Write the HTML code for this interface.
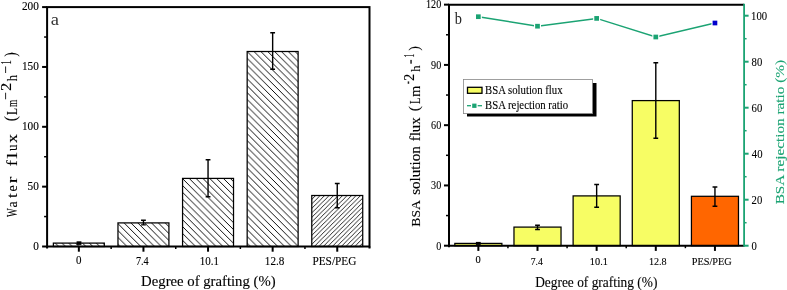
<!DOCTYPE html><html><head><meta charset="utf-8"><style>html,body{margin:0;padding:0;background:#fff;overflow:hidden}svg{display:block;will-change:transform}text{fill:#000;white-space:pre;stroke:#000;stroke-width:0.12px;paint-order:stroke}</style></head><body>
<svg width="787" height="290" viewBox="0 0 787 290">
<defs>
<pattern id="hb" patternUnits="userSpaceOnUse" width="6.85" height="6.85" patternTransform="translate(3.9,0)"><path d="M-1,-1 L7.85,7.85 M-1,5.85 L1,7.85 M5.85,-1 L7.85,1" stroke="#000" stroke-width="0.95"/></pattern>
<pattern id="hf" patternUnits="userSpaceOnUse" width="4.5" height="4.5" patternTransform="translate(2.7,0)"><path d="M-1,5.5 L5.5,-1 M-1,1 L1,-1 M3.5,5.5 L5.5,3.5" stroke="#000" stroke-width="0.85"/></pattern>
</defs>
<rect x="53.37" y="243.1" width="50.95" height="3.4" fill="url(#hb)" stroke="#000" stroke-width="1.25"/>
<rect x="117.97" y="222.9" width="50.95" height="23.6" fill="url(#hb)" stroke="#000" stroke-width="1.25"/>
<rect x="182.57" y="178.4" width="50.95" height="68.1" fill="url(#hb)" stroke="#000" stroke-width="1.25"/>
<rect x="247.17" y="51.5" width="50.95" height="195" fill="url(#hb)" stroke="#000" stroke-width="1.25"/>
<rect x="311.77" y="195.5" width="50.95" height="51" fill="url(#hf)" stroke="#000" stroke-width="1.25"/>
<rect x="76.6" y="241.3" width="4.8" height="3.6" fill="#000"/>
<path d="M143.45,220.2V224.9M141.05,220.2H145.85M141.05,224.9H145.85" stroke="#000" stroke-width="1.4" fill="none"/>
<path d="M208.05,159.8V196.8M205.65,159.8H210.45M205.65,196.8H210.45" stroke="#000" stroke-width="1.4" fill="none"/>
<path d="M272.65,32.8V69.3M270.25,32.8H275.05M270.25,69.3H275.05" stroke="#000" stroke-width="1.4" fill="none"/>
<path d="M337.25,183.5V207.7M334.85,183.5H339.65M334.85,207.7H339.65" stroke="#000" stroke-width="1.4" fill="none"/>
<rect x="47.1" y="7.1" width="322.4" height="239.4" fill="none" stroke="#000" stroke-width="2"/>
<path d="M47.1,246.5V248.5M369.5,246.5V248.5" stroke="#000" stroke-width="2"/>
<path d="M42.1,246.5H47.1" stroke="#000" stroke-width="2"/>
<text x="33.17" y="249.7" font-size="11.8" font-family="Liberation Serif" textLength="5.63" lengthAdjust="spacingAndGlyphs">0</text>
<path d="M42.1,186.65H47.1" stroke="#000" stroke-width="2"/>
<text x="27.53" y="189.85" font-size="11.8" font-family="Liberation Serif" textLength="11.27" lengthAdjust="spacingAndGlyphs">50</text>
<path d="M42.1,126.8H47.1" stroke="#000" stroke-width="2"/>
<text x="21.9" y="130" font-size="11.8" font-family="Liberation Serif" textLength="16.9" lengthAdjust="spacingAndGlyphs">100</text>
<path d="M42.1,66.95H47.1" stroke="#000" stroke-width="2"/>
<text x="21.9" y="70.15" font-size="11.8" font-family="Liberation Serif" textLength="16.9" lengthAdjust="spacingAndGlyphs">150</text>
<path d="M42.1,7.1H47.1" stroke="#000" stroke-width="2"/>
<text x="21.9" y="10.3" font-size="11.8" font-family="Liberation Serif" textLength="16.9" lengthAdjust="spacingAndGlyphs">200</text>
<path d="M44.1,216.57H47.1" stroke="#000" stroke-width="1.5"/>
<path d="M44.1,156.72H47.1" stroke="#000" stroke-width="1.5"/>
<path d="M44.1,96.88H47.1" stroke="#000" stroke-width="1.5"/>
<path d="M44.1,37.03H47.1" stroke="#000" stroke-width="1.5"/>
<path d="M78.85,246.5V251.7" stroke="#000" stroke-width="2"/>
<path d="M143.45,246.5V251.7" stroke="#000" stroke-width="2"/>
<path d="M208.05,246.5V251.7" stroke="#000" stroke-width="2"/>
<path d="M272.65,246.5V251.7" stroke="#000" stroke-width="2"/>
<path d="M337.25,246.5V251.7" stroke="#000" stroke-width="2"/>
<path d="M111.15,246.5V249" stroke="#000" stroke-width="1.5"/>
<path d="M175.75,246.5V249" stroke="#000" stroke-width="1.5"/>
<path d="M240.35,246.5V249" stroke="#000" stroke-width="1.5"/>
<path d="M304.95,246.5V249" stroke="#000" stroke-width="1.5"/>
<text x="75.91" y="263.6" font-size="11.6" font-family="Liberation Serif" textLength="5.48" lengthAdjust="spacingAndGlyphs">0</text>
<text x="135.88" y="264.7" font-size="11.8" font-family="Liberation Serif" textLength="12.82" lengthAdjust="spacingAndGlyphs">7.4</text>
<text x="199.66" y="265.2" font-size="11.8" font-family="Liberation Serif" textLength="19.25" lengthAdjust="spacingAndGlyphs">10.1</text>
<text x="264.84" y="265.2" font-size="11.8" font-family="Liberation Serif" textLength="19.55" lengthAdjust="spacingAndGlyphs">12.8</text>
<text x="312.41" y="265.2" font-size="11.8" font-family="Liberation Serif" textLength="43.98" lengthAdjust="spacingAndGlyphs">PES/PEG</text>
<text x="141.11" y="285.8" font-size="14.3" font-family="Liberation Serif" textLength="134.49" lengthAdjust="spacingAndGlyphs">Degree of grafting (%)</text>
<text x="50.7" y="25" font-size="17" font-family="Liberation Serif" textLength="8.2" lengthAdjust="spacingAndGlyphs" style="fill:#333;stroke:none">a</text>
<text transform="translate(17.3,217.05) rotate(-90)" font-size="15.2" font-family="Liberation Serif" textLength="8.74" lengthAdjust="spacingAndGlyphs">W</text>
<text transform="translate(17.3,207.53) rotate(-90)" font-size="15.2" font-family="Liberation Serif" textLength="6.07" lengthAdjust="spacingAndGlyphs">a</text>
<text transform="translate(17.3,197.91) rotate(-90)" font-size="15.2" font-family="Liberation Serif" textLength="4.49" lengthAdjust="spacingAndGlyphs">t</text>
<text transform="translate(17.3,191.5) rotate(-90)" font-size="15.2" font-family="Liberation Serif" textLength="6.12" lengthAdjust="spacingAndGlyphs">e</text>
<text transform="translate(17.3,183.15) rotate(-90)" font-size="15.2" font-family="Liberation Serif" textLength="6.66" lengthAdjust="spacingAndGlyphs">r</text>
<text transform="translate(17.3,166.29) rotate(-90)" font-size="15.2" font-family="Liberation Serif" textLength="6.01" lengthAdjust="spacingAndGlyphs">f</text>
<text transform="translate(17.3,158.81) rotate(-90)" font-size="15.2" font-family="Liberation Serif" textLength="6.37" lengthAdjust="spacingAndGlyphs">l</text>
<text transform="translate(17.3,151.04) rotate(-90)" font-size="15.2" font-family="Liberation Serif" textLength="6.49" lengthAdjust="spacingAndGlyphs">u</text>
<text transform="translate(17.3,143.03) rotate(-90)" font-size="15.2" font-family="Liberation Serif" textLength="8.96" lengthAdjust="spacingAndGlyphs">x</text>
<text transform="translate(16.18,121.14) rotate(-90)" font-size="17" font-family="Liberation Serif" textLength="5.09" lengthAdjust="spacingAndGlyphs">(</text>
<text transform="translate(17.1,115.1) rotate(-90)" font-size="15.5" font-family="Liberation Serif" textLength="7.05" lengthAdjust="spacingAndGlyphs">L</text>
<text transform="translate(17.1,107.04) rotate(-90)" font-size="15.5" font-family="Liberation Serif" textLength="7.25" lengthAdjust="spacingAndGlyphs">m</text>
<text transform="translate(10.9,99.95) rotate(-90)" font-size="15.5" font-family="Liberation Serif" textLength="7.88" lengthAdjust="spacingAndGlyphs">−</text>
<text transform="translate(10.9,91.09) rotate(-90)" font-size="15.5" font-family="Liberation Serif" textLength="8.25" lengthAdjust="spacingAndGlyphs">2</text>
<text transform="translate(17.1,81.18) rotate(-90)" font-size="15.5" font-family="Liberation Serif" textLength="6.32" lengthAdjust="spacingAndGlyphs">h</text>
<text transform="translate(10.9,73.75) rotate(-90)" font-size="15.5" font-family="Liberation Serif" textLength="7.88" lengthAdjust="spacingAndGlyphs">−</text>
<text transform="translate(10.9,64.5) rotate(-90)" font-size="15.5" font-family="Liberation Serif" textLength="4.14" lengthAdjust="spacingAndGlyphs">1</text>
<text transform="translate(15.89,56.85) rotate(-90)" font-size="16" font-family="Liberation Serif" textLength="4.48" lengthAdjust="spacingAndGlyphs">)</text>
<rect x="454.83" y="243.4" width="47.05" height="2.3" fill="#f7fd64" stroke="#000" stroke-width="1.25"/>
<rect x="513.98" y="227.1" width="47.05" height="18.6" fill="#f7fd64" stroke="#000" stroke-width="1.25"/>
<rect x="573.12" y="195.9" width="47.05" height="49.8" fill="#f7fd64" stroke="#000" stroke-width="1.25"/>
<rect x="632.27" y="100.6" width="47.05" height="145.1" fill="#f7fd64" stroke="#000" stroke-width="1.25"/>
<rect x="691.43" y="196.3" width="47.05" height="49.4" fill="#ff6600" stroke="#000" stroke-width="1.25"/>
<rect x="475.9" y="241.9" width="4.8" height="3" fill="#000"/>
<path d="M537.5,225.2V229.5M535.1,225.2H539.9M535.1,229.5H539.9" stroke="#000" stroke-width="1.4" fill="none"/>
<path d="M596.65,184.5V207.3M594.25,184.5H599.05M594.25,207.3H599.05" stroke="#000" stroke-width="1.4" fill="none"/>
<path d="M655.8,62.7V138.3M653.4,62.7H658.2M653.4,138.3H658.2" stroke="#000" stroke-width="1.4" fill="none"/>
<path d="M714.95,187V206.2M712.55,187H717.35M712.55,206.2H717.35" stroke="#000" stroke-width="1.4" fill="none"/>
<path d="M449.0,247.2V4.65H744.1" fill="none" stroke="#000" stroke-width="2"/>
<path d="M449.0,245.7H744.1" fill="none" stroke="#000" stroke-width="2"/>
<path d="M744.1,3.6500000000000004V246.7" fill="none" stroke="#1ba373" stroke-width="1.8"/>
<path d="M444,245.7H449.0" stroke="#000" stroke-width="2"/>
<text x="436.18" y="249.5" font-size="12.7" font-family="Liberation Serif" textLength="5.08" lengthAdjust="spacingAndGlyphs">0</text>
<path d="M444,185.44H449.0" stroke="#000" stroke-width="2"/>
<text x="431.1" y="189.24" font-size="12.7" font-family="Liberation Serif" textLength="10.16" lengthAdjust="spacingAndGlyphs">30</text>
<path d="M444,125.17H449.0" stroke="#000" stroke-width="2"/>
<text x="431.1" y="128.97" font-size="12.7" font-family="Liberation Serif" textLength="10.16" lengthAdjust="spacingAndGlyphs">60</text>
<path d="M444,64.91H449.0" stroke="#000" stroke-width="2"/>
<text x="431.1" y="68.71" font-size="12.7" font-family="Liberation Serif" textLength="10.16" lengthAdjust="spacingAndGlyphs">90</text>
<path d="M444,4.65H449.0" stroke="#000" stroke-width="2"/>
<text x="426.02" y="8.45" font-size="12.7" font-family="Liberation Serif" textLength="15.24" lengthAdjust="spacingAndGlyphs">120</text>
<path d="M446,215.57H449.0" stroke="#000" stroke-width="1.5"/>
<path d="M446,155.31H449.0" stroke="#000" stroke-width="1.5"/>
<path d="M446,95.04H449.0" stroke="#000" stroke-width="1.5"/>
<path d="M446,34.78H449.0" stroke="#000" stroke-width="1.5"/>
<path d="M744.1,245.7H748.6" stroke="#1ba373" stroke-width="2"/>
<text x="751.62" y="249.6" font-size="13" font-family="Liberation Serif" textLength="5.33" lengthAdjust="spacingAndGlyphs">0</text>
<path d="M744.1,199.7H748.6" stroke="#1ba373" stroke-width="2"/>
<text x="751.57" y="203.6" font-size="13" font-family="Liberation Serif" textLength="10.66" lengthAdjust="spacingAndGlyphs">20</text>
<path d="M744.1,153.7H748.6" stroke="#1ba373" stroke-width="2"/>
<text x="751.84" y="157.6" font-size="13" font-family="Liberation Serif" textLength="10.66" lengthAdjust="spacingAndGlyphs">40</text>
<path d="M744.1,107.7H748.6" stroke="#1ba373" stroke-width="2"/>
<text x="751.57" y="111.6" font-size="13" font-family="Liberation Serif" textLength="10.66" lengthAdjust="spacingAndGlyphs">60</text>
<path d="M744.1,61.7H748.6" stroke="#1ba373" stroke-width="2"/>
<text x="751.62" y="65.6" font-size="13" font-family="Liberation Serif" textLength="10.66" lengthAdjust="spacingAndGlyphs">80</text>
<path d="M744.1,15.7H748.6" stroke="#1ba373" stroke-width="2"/>
<text x="751.09" y="19.6" font-size="13" font-family="Liberation Serif" textLength="15.99" lengthAdjust="spacingAndGlyphs">100</text>
<path d="M744.1,222.7H746.6" stroke="#1ba373" stroke-width="1.5"/>
<path d="M744.1,176.7H746.6" stroke="#1ba373" stroke-width="1.5"/>
<path d="M744.1,130.7H746.6" stroke="#1ba373" stroke-width="1.5"/>
<path d="M744.1,84.7H746.6" stroke="#1ba373" stroke-width="1.5"/>
<path d="M744.1,38.7H746.6" stroke="#1ba373" stroke-width="1.5"/>
<path d="M478.35,245.7V250.9" stroke="#000" stroke-width="2"/>
<path d="M537.5,245.7V250.9" stroke="#000" stroke-width="2"/>
<path d="M596.65,245.7V250.9" stroke="#000" stroke-width="2"/>
<path d="M655.8,245.7V250.9" stroke="#000" stroke-width="2"/>
<path d="M714.95,245.7V250.9" stroke="#000" stroke-width="2"/>
<path d="M507.93,245.7V248.2" stroke="#000" stroke-width="1.5"/>
<path d="M567.08,245.7V248.2" stroke="#000" stroke-width="1.5"/>
<path d="M626.22,245.7V248.2" stroke="#000" stroke-width="1.5"/>
<path d="M685.38,245.7V248.2" stroke="#000" stroke-width="1.5"/>
<text x="475.53" y="262.9" font-size="11.2" font-family="Liberation Serif" textLength="5.24" lengthAdjust="spacingAndGlyphs">0</text>
<text x="530.72" y="264.6" font-size="11.4" font-family="Liberation Serif" textLength="12.07" lengthAdjust="spacingAndGlyphs">7.4</text>
<text x="589.82" y="264.6" font-size="11.4" font-family="Liberation Serif" textLength="18.05" lengthAdjust="spacingAndGlyphs">10.1</text>
<text x="648.94" y="264.5" font-size="11.4" font-family="Liberation Serif" textLength="17.72" lengthAdjust="spacingAndGlyphs">12.8</text>
<text x="691.74" y="265" font-size="11.4" font-family="Liberation Serif" textLength="40.02" lengthAdjust="spacingAndGlyphs">PES/PEG</text>
<text x="535.15" y="286.8" font-size="14.6" font-family="Liberation Serif" textLength="122.29" lengthAdjust="spacingAndGlyphs">Degree of grafting (%)</text>
<text x="454.65" y="24.3" font-size="17" font-family="Liberation Serif" textLength="7.17" lengthAdjust="spacingAndGlyphs" style="fill:#222;stroke:none">b</text>
<polyline points="478.35,16.7 537.5,26.2 596.65,18.4 655.8,37 714.95,23" fill="none" stroke="#1ba373" stroke-width="1.5"/>
<rect x="474.85" y="13.2" width="7" height="7" fill="#fff"/>
<rect x="476" y="14.35" width="4.7" height="4.7" fill="#1ba373"/>
<rect x="534" y="22.7" width="7" height="7" fill="#fff"/>
<rect x="535.15" y="23.85" width="4.7" height="4.7" fill="#1ba373"/>
<rect x="593.15" y="14.9" width="7" height="7" fill="#fff"/>
<rect x="594.3" y="16.05" width="4.7" height="4.7" fill="#1ba373"/>
<rect x="652.3" y="33.5" width="7" height="7" fill="#fff"/>
<rect x="653.45" y="34.65" width="4.7" height="4.7" fill="#1ba373"/>
<rect x="711.45" y="19.5" width="7" height="7" fill="#fff"/>
<rect x="712.6" y="20.65" width="4.7" height="4.7" fill="#0000cc"/>
<text transform="translate(420.4,226.76) rotate(-90)" font-size="13.41" font-family="Liberation Serif" textLength="26.68" lengthAdjust="spacingAndGlyphs">BSA</text>
<text transform="translate(420.4,194.85) rotate(-90)" font-size="14" font-family="Liberation Serif" textLength="48.57" lengthAdjust="spacingAndGlyphs">solution</text>
<text transform="translate(420.4,141.3) rotate(-90)" font-size="14" font-family="Liberation Serif" textLength="24.01" lengthAdjust="spacingAndGlyphs">flux</text>
<text transform="translate(418.71,111.14) rotate(-90)" font-size="15.3" font-family="Liberation Serif" textLength="5.09" lengthAdjust="spacingAndGlyphs">(</text>
<text transform="translate(420.4,104.07) rotate(-90)" font-size="14" font-family="Liberation Serif" textLength="6.46" lengthAdjust="spacingAndGlyphs">L</text>
<text transform="translate(420.4,96.83) rotate(-90)" font-size="14" font-family="Liberation Serif" textLength="10.93" lengthAdjust="spacingAndGlyphs">m</text>
<rect x="407.7" y="81.4" width="1.5" height="2.4" fill="#222"/>
<text transform="translate(414.4,80.77) rotate(-90)" font-size="13.71" font-family="Liberation Serif" textLength="6.88" lengthAdjust="spacingAndGlyphs">2</text>
<text transform="translate(420.4,71.68) rotate(-90)" font-size="13.02" font-family="Liberation Serif" textLength="6.32" lengthAdjust="spacingAndGlyphs">h</text>
<rect x="410.3" y="59.9" width="1.5" height="3.8" fill="#222"/>
<text transform="translate(414.4,57.17) rotate(-90)" font-size="13.82" font-family="Liberation Serif" textLength="3.43" lengthAdjust="spacingAndGlyphs">1</text>
<text transform="translate(418.75,50.43) rotate(-90)" font-size="15.5" font-family="Liberation Serif" textLength="4.23" lengthAdjust="spacingAndGlyphs">)</text>
<text transform="translate(784.1,204.31) rotate(-90)" font-size="13.5" font-family="Liberation Serif" textLength="144.34" lengthAdjust="spacingAndGlyphs" style="fill:#1ba373;stroke:#1ba373">BSA rejection ratio (%)</text>
<rect x="467" y="83" width="129.5" height="33.5" fill="#000"/>
<rect x="463.5" y="79.4" width="129" height="34.2" fill="#fff" stroke="#888" stroke-width="0.8"/>
<rect x="467.5" y="87.3" width="14.5" height="6" fill="#f7fd64" stroke="#000" stroke-width="1.3"/>
<path d="M467,105.7H482" stroke="#1ba373" stroke-width="1.3"/>
<rect x="471" y="102.4" width="6.7" height="6.7" fill="#fff"/>
<rect x="472.2" y="103.6" width="4.3" height="4.3" fill="#1ba373"/>
<text x="485.03" y="93.5" font-size="12.3" font-family="Liberation Serif" textLength="77.57" lengthAdjust="spacingAndGlyphs">BSA solution flux</text>
<text x="485.03" y="109.2" font-size="12.3" font-family="Liberation Serif" textLength="83.01" lengthAdjust="spacingAndGlyphs">BSA rejection ratio</text>
</svg></body></html>
